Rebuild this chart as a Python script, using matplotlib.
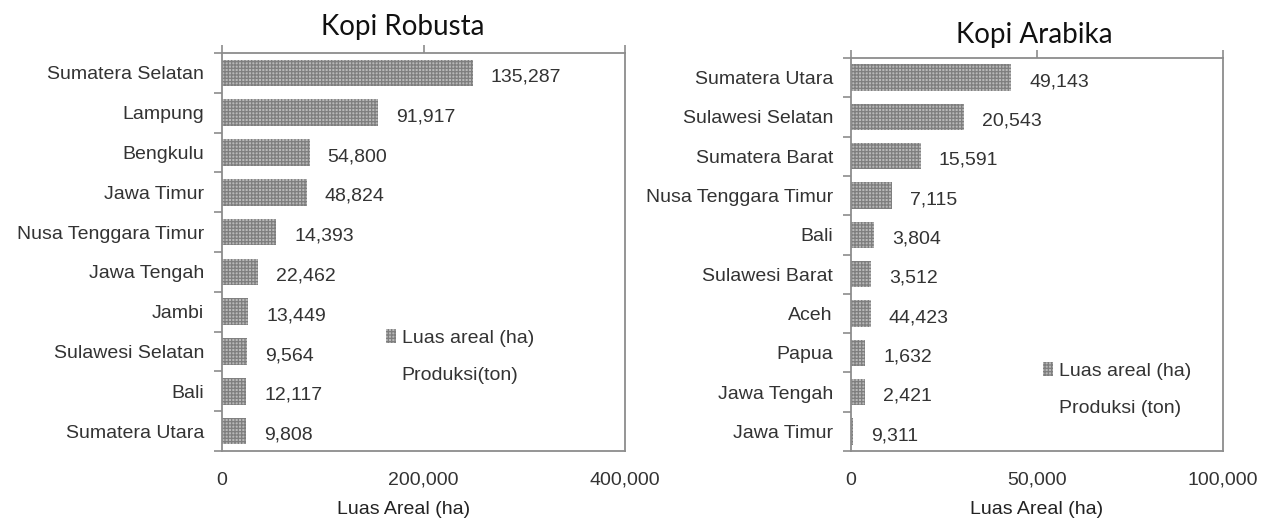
import matplotlib
matplotlib.use("Agg")
import matplotlib.pyplot as plt
from matplotlib.patches import Patch
from matplotlib import font_manager as fm

# ---------------- data ----------------
robusta_provinces = ['Sumatera Selatan', 'Lampung', 'Bengkulu', 'Jawa Timur',
                     'Nusa Tenggara Timur', 'Jawa Tengah', 'Jambi',
                     'Sulawesi Selatan', 'Bali', 'Sumatera Utara']
robusta_area = [249000, 155000, 87000, 84000, 54000, 36000, 26000, 25000, 24000, 24000]
robusta_prod = [135287, 91917, 54800, 48824, 14393, 22462, 13449, 9564, 12117, 9808]
robusta_ticks = [0, 200000, 400000]

arabika_provinces = ['Sumatera Utara', 'Sulawesi Selatan', 'Sumatera Barat',
                     'Nusa Tenggara Timur', 'Bali', 'Sulawesi Barat', 'Aceh',
                     'Papua', 'Jawa Tengah', 'Jawa Timur']
arabika_area = [43000, 30300, 18800, 11000, 6200, 5400, 5300, 3800, 3800, 500]
arabika_prod = [49143, 20543, 15591, 7115, 3804, 3512, 44423, 1632, 2421, 9311]
arabika_ticks = [0, 50000, 100000]

legend_labels = ['Luas areal (ha)', 'Produksi(ton)']
legend_labels_r = ['Luas areal (ha)', 'Produksi (ton)']
xlabel = 'Luas Areal (ha)'

# ---------------- style ----------------
avail = {f.name for f in fm.fontManager.ttflist}
narrow = 'Liberation Sans Narrow' if 'Liberation Sans Narrow' in avail else None
if narrow:
    plt.rcParams['font.family'] = [narrow, 'DejaVu Sans']
    FS = 16.5
else:
    plt.rcParams['font.family'] = ['Liberation Sans', 'DejaVu Sans']
    FS = 14
plt.rcParams['hatch.linewidth'] = 0.9
TXT = '#333333'
SPINE = '#8c8c8c'
BAR_FACE = '#b8b8b8'
BAR_HATCH = '#7e7e7e'

fig = plt.figure(figsize=(12.66, 5.25), dpi=100)
axL = fig.add_axes([222 / 1266, 1 - 451 / 525, 403 / 1266, 398 / 525])
axR = fig.add_axes([851 / 1266, 1 - 451 / 525, 372 / 1266, 393 / 525])


def draw(ax, provs, area, prod, ticks, xlab_x, leg_labels, leg_anchor):
    n = len(provs)
    ypos = list(range(n))
    ax.barh(ypos, area, height=0.67, facecolor=BAR_FACE, edgecolor=BAR_HATCH,
            hatch='+++++', linewidth=0)
    for y, a, p in zip(ypos, area, prod):
        ax.annotate(f'{p:,}', xy=(a, y), xytext=(13, -3), textcoords='offset points',
                    ha='left', va='center', fontsize=FS, color=TXT)
    ax.set_ylim(n - 0.5, -0.5)
    ax.set_xlim(ticks[0], ticks[-1])
    ax.set_xticks(ticks)
    ax.set_xticklabels([f'{t:,}' for t in ticks], fontsize=FS, color=TXT)
    ax.tick_params(axis='x', bottom=False, top=True, labelbottom=True, labeltop=False,
                   direction='out', length=6, width=1.2, color=SPINE, pad=9)
    # category labels at centres, tick marks at boundaries
    ax.set_yticks(ypos)
    ax.set_yticklabels(provs, fontsize=FS, color=TXT)
    ax.tick_params(axis='y', which='major', length=0, pad=13)
    ax.set_yticks([i + 0.5 for i in range(-1, n)], minor=True)
    ax.tick_params(axis='y', which='minor', length=6, width=1.2, color=SPINE, direction='out')
    for s in ax.spines.values():
        s.set_color(SPINE)
        s.set_linewidth(1.3)
    ax.set_xlabel(xlabel, fontsize=FS, color='#222222')
    ax.xaxis.set_label_coords(xlab_x, -0.148)
    ax.xaxis.label.set_va('center')
    handles = [Patch(facecolor=BAR_FACE, edgecolor=BAR_HATCH, hatch='+++++', linewidth=0),
               Patch(facecolor='none', edgecolor='none')]
    leg = ax.legend(handles, leg_labels, loc='upper left', bbox_to_anchor=leg_anchor,
                    bbox_transform=fig.transFigure, frameon=False, fontsize=FS,
                    handlelength=0.5, handleheight=0.7, handletextpad=0.3,
                    labelspacing=1.0, borderaxespad=0, borderpad=0)
    for t in leg.get_texts():
        t.set_color(TXT)


draw(axL, robusta_provinces, robusta_area, robusta_prod, robusta_ticks, 0.45,
     legend_labels, (386 / 1266, 1 - 329 / 525))
draw(axR, arabika_provinces, arabika_area, arabika_prod, arabika_ticks, 0.5,
     legend_labels_r, (1043 / 1266, 1 - 362 / 525))

title_font = ['Lato', 'DejaVu Sans']
fig.text(403 / 1266, 1 - 27 / 525, 'Kopi Robusta', ha='center', va='center',
         fontsize=20, color='#111111', family=title_font)
fig.text(1034 / 1266, 1 - 35 / 525, 'Kopi Arabika', ha='center', va='center',
         fontsize=20, color='#111111', family=title_font)

fig.savefig('out.png', dpi=100, facecolor='white')
